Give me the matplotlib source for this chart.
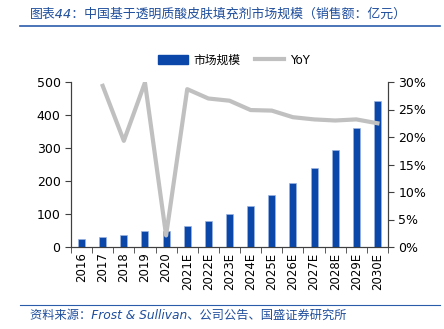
import matplotlib
matplotlib.use("Agg")
import matplotlib.pyplot as plt
from matplotlib.lines import Line2D
from matplotlib.patches import Patch
import numpy as np
import logging
logging.getLogger('matplotlib.font_manager').setLevel(logging.ERROR)

plt.rcParams['font.family'] = ['DejaVu Sans', 'Noto Sans CJK SC']

categories = ["2016", "2017", "2018", "2019", "2020", "2021E", "2022E", "2023E",
              "2024E", "2025E", "2026E", "2027E", "2028E", "2029E", "2030E"]
market = [23, 30, 36, 48, 47, 63, 80, 101, 125, 157, 194, 239, 294, 362, 443]
yoy = [np.nan, 29.3, 19.3, 29.9, 2.1, 28.7, 27.0, 26.6, 24.9, 24.8, 23.6, 23.2, 23.0, 23.2, 22.5]

title = "图表44：中国基于透明质酸皮肤填充剂市场规模（销售额：亿元）"
source = "资料来源：Frost & Sullivan、公司公告、国盛证券研究所"

blue = "#0a47a8"
gray = "#c0c0c0"
txtblue = "#1f4e9c"

fig = plt.figure(figsize=(4.44, 3.29), dpi=100)
ax = fig.add_axes([71/444, 1-247/329, (388-71)/444, (247-82)/329])
x = np.arange(len(categories))
ax.bar(x, market, width=0.33, color=blue, edgecolor="#9ab4e0", linewidth=0.5, zorder=2)
ax.set_ylim(0, 500)
ax.set_yticks([0, 100, 200, 300, 400, 500])
ax.set_xlim(-0.5, len(categories) - 0.5)
ax.set_xticks(x)
ax.set_xticklabels(categories, rotation=90, fontsize=8.5)
ax.tick_params(axis='x', length=0, pad=4)
ax.set_xticks(np.arange(-0.5, len(categories), 1), minor=True)
ax.tick_params(axis='x', which='minor', length=4, direction='out', color="#404040")
ax.tick_params(axis='y', labelsize=9, length=4, color="#404040")
ax.spines["top"].set_visible(False)
for s in ["left", "bottom", "right"]:
    ax.spines[s].set_color("#404040")

ax2 = ax.twinx()
ax2.plot(x, yoy, color=gray, linewidth=3, zorder=3)
ax2.set_ylim(0, 30)
ax2.set_yticks([0, 5, 10, 15, 20, 25, 30])
ax2.set_yticklabels([f"{v}%" for v in [0, 5, 10, 15, 20, 25, 30]])
ax2.tick_params(axis='y', labelsize=9, length=4, color="#404040")
ax2.spines["top"].set_visible(False)
for s in ["left", "bottom", "right"]:
    ax2.spines[s].set_color("#404040")

handles = [Patch(color=blue), Line2D([0], [0], color=gray, linewidth=3)]
fig.legend(handles, ["市场规模", "YoY"], loc="center", bbox_to_anchor=(0.527, 1 - 60/329),
           ncol=2, frameon=False, fontsize=8.5, handlelength=2.5, columnspacing=1.2,
           handletextpad=0.5)

fig.text(30/444, 1-14/329, title, fontsize=9.3, color=txtblue, va="center", ha="left", style="italic")
fig.add_artist(Line2D([20/444, 440/444], [1-26/329, 1-26/329], color="#2a5caa", linewidth=1.2))
fig.add_artist(Line2D([20/444, 440/444], [1-305/329, 1-305/329], color="#2a5caa", linewidth=0.8))
fig.text(30/444, 1-315/329, source, fontsize=8.8, color=txtblue, va="center", ha="left", style="italic")

fig.savefig("out.png", dpi=100)
